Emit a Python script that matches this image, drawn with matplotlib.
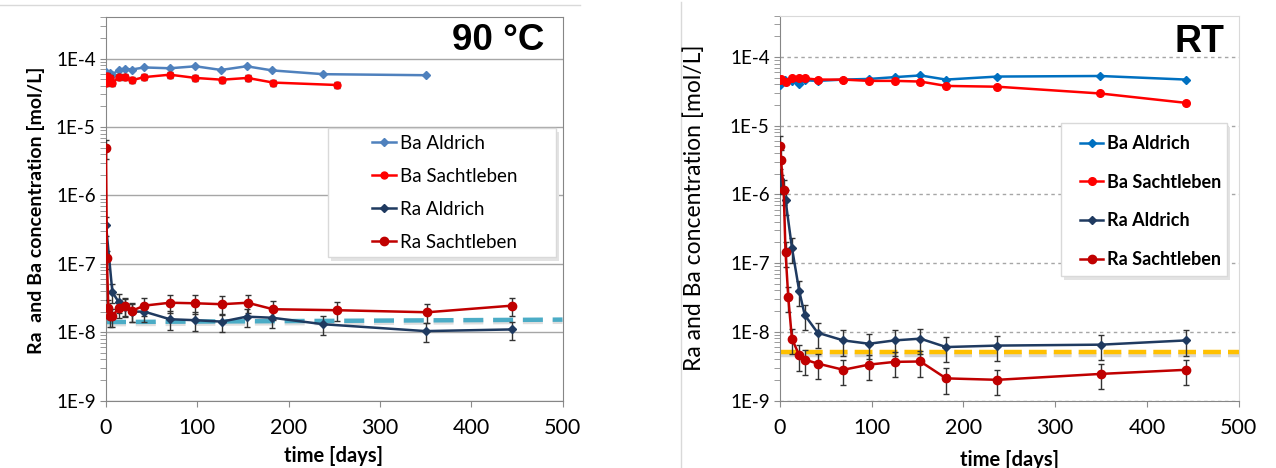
import numpy as np
import matplotlib
matplotlib.use("Agg")
import matplotlib.pyplot as plt
from matplotlib.ticker import FixedLocator, LogLocator, NullFormatter
from matplotlib.patches import Rectangle
from matplotlib.lines import Line2D

plt.rcParams['font.family'] = ['Lato', 'DejaVu Sans']

# ---------------- 90 °C data ----------------
hot_ba_ald_t = [0, 4, 7, 14, 21, 28, 42, 70, 98, 126, 154, 182, 238, 350]
hot_ba_ald = [6.4e-5, 6.1e-5, 5.8e-5, 6.9e-5, 7.1e-5, 6.9e-5, 7.4e-5, 7.2e-5,
              7.7e-5, 6.8e-5, 7.7e-5, 6.7e-5, 5.9e-5, 5.7e-5]
hot_ba_sac_t = [0, 1.5, 4, 7, 14, 21, 28, 42, 70, 98, 127, 155, 183, 253]
hot_ba_sac = [4.4e-5, 5.6e-5, 5.2e-5, 4.4e-5, 5.35e-5, 5.35e-5, 4.8e-5, 5.35e-5,
              5.8e-5, 5.2e-5, 4.9e-5, 5.2e-5, 4.45e-5, 4.1e-5]
hot_ra_ald_t = [0, 7, 14, 21, 28, 42, 70, 98, 127, 154, 182, 238, 350, 445]
hot_ra_ald = [3.7e-7, 3.85e-8, 2.75e-8, 2.37e-8, 2.0e-8, 2.0e-8, 1.55e-8, 1.5e-8,
              1.43e-8, 1.69e-8, 1.63e-8, 1.31e-8, 1.04e-8, 1.1e-8]
hot_ra_sac_t = [0, 1, 2.5, 4.5, 7, 14, 21, 28, 42, 70, 98, 127, 155, 183, 253, 352, 445]
hot_ra_sac = [4.9e-6, 1.2e-7, 2.3e-8, 1.7e-8, 1.7e-8, 2.3e-8, 2.45e-8, 2.05e-8, 2.45e-8,
              2.7e-8, 2.65e-8, 2.57e-8, 2.7e-8, 2.17e-8, 2.1e-8, 1.96e-8, 2.45e-8]
hot_limit_t = [0, 500]
hot_limit = [1.41e-8, 1.53e-8]
hot_ra_err = 0.3      # relative error bars
hot_ba_err = 0.1

# ---------------- RT data ----------------
rt_ba_ald_t = [0, 5, 13, 21, 27, 41, 69, 97, 125, 153, 181, 237, 349, 443]
rt_ba_ald = [3.9e-5, 4.7e-5, 4.5e-5, 4.0e-5, 4.6e-5, 4.5e-5, 4.7e-5, 4.8e-5,
             5.1e-5, 5.4e-5, 4.7e-5, 5.2e-5, 5.3e-5, 4.7e-5]
rt_ba_sac_t = [0, 1, 6, 13, 21, 27, 41, 69, 97, 125, 153, 181, 237, 349, 443]
rt_ba_sac = [4.6e-5, 4.8e-5, 4.4e-5, 5.0e-5, 4.9e-5, 4.9e-5, 4.7e-5, 4.7e-5,
             4.5e-5, 4.5e-5, 4.4e-5, 3.8e-5, 3.7e-5, 2.95e-5, 2.15e-5]
rt_ra_ald_t = [0, 6, 13, 21, 27, 41, 69, 97, 125, 153, 181, 237, 350, 443]
rt_ra_ald = [1.67e-6, 8.3e-7, 1.68e-7, 3.9e-8, 1.75e-8, 9.7e-9, 7.5e-9, 6.7e-9,
             7.5e-9, 7.95e-9, 6.0e-9, 6.3e-9, 6.5e-9, 7.5e-9]
rt_ra_sac_t = [0, 1, 4, 6, 9, 13, 21, 27, 41, 69, 97, 125, 153, 181, 237, 350, 443]
rt_ra_sac = [5.0e-6, 3.2e-6, 1.16e-6, 1.47e-7, 3.2e-8, 7.9e-9, 4.55e-9, 3.94e-9, 3.45e-9,
             2.8e-9, 3.33e-9, 3.65e-9, 3.7e-9, 2.1e-9, 2.0e-9, 2.44e-9, 2.8e-9]
rt_limit_t = [0, 500]
rt_limit = [5.1e-9, 5.1e-9]
rt_ra_err = 0.4

labels = ["Ba Aldrich", "Ba Sachtleben", "Ra Aldrich", "Ra Sachtleben"]
decades = [1e-9, 1e-8, 1e-7, 1e-6, 1e-5, 1e-4]
decade_labels = ["1E-9", "1E-8", "1E-7", "1E-6", "1E-5", "1E-4"]
xticks = [0, 100, 200, 300, 400, 500]

W, H = 1276, 468
fig = plt.figure(figsize=(W / 100, H / 100), dpi=100)


def px(x0, y0, x1, y1):
    # pixel box -> figure fraction rect
    return [x0 / W, 1 - y1 / H, (x1 - x0) / W, (y1 - y0) / H]


def setup(ax, gridstyle, spine_light):
    ax.set_yscale('log')
    ax.set_xlim(0, 500)
    ax.set_ylim(1e-9, 4e-4)
    ax.yaxis.set_major_locator(FixedLocator(decades))
    ax.set_yticklabels(decade_labels)
    ax.yaxis.set_minor_locator(LogLocator(base=10, subs=np.arange(2, 10)))
    ax.yaxis.set_minor_formatter(NullFormatter())
    ax.set_xticks(xticks)
    ax.tick_params(axis='y', which='both', direction='out', length=4.5,
                   color='#8C8C8C', labelsize=13.5, pad=3)
    ax.tick_params(axis='x', which='major', direction='out', length=4.5,
                   color='#8C8C8C', labelsize=15.5, pad=8)
    ax.grid(True, axis='y', which='major', color='#A6A6A6', lw=1, ls=gridstyle, zorder=0)
    for s in ['left', 'bottom']:
        ax.spines[s].set_color('#868686')
    for s in ['top', 'right']:
        ax.spines[s].set_color(spine_light)


def legend_box(ax, box, handles, handles_xy, spacing, bold, fs):
    x0, y0, x1, y1 = box
    sh = Rectangle((x0 / W + 3 / W, 1 - (y1 + 4) / H), (x1 - x0) / W, (y1 - y0) / H,
                   transform=fig.transFigure, facecolor='#E3E3E3', edgecolor='none',
                   zorder=6, clip_on=False)
    ax.add_patch(sh)
    r = Rectangle((x0 / W, 1 - y1 / H), (x1 - x0) / W, (y1 - y0) / H,
                  transform=fig.transFigure, facecolor='white', edgecolor='#D9D9D9',
                  lw=1, zorder=7, clip_on=False)
    ax.add_patch(r)
    leg = ax.legend(handles=handles, labels=labels, loc='upper left',
                    bbox_to_anchor=(handles_xy[0] / W, 1 - handles_xy[1] / H),
                    bbox_transform=fig.transFigure, frameon=False,
                    labelspacing=spacing, handlelength=1.3, handletextpad=0.2,
                    borderpad=0, borderaxespad=0, prop={'size': fs, 'weight': bold})
    leg.set_zorder(8)


def handle(color, marker, ms):
    return Line2D([], [], color=color, lw=1.8, marker=marker, ms=ms)


# ================= left panel: 90 °C =================
ax1 = fig.add_axes(px(106, 17.3, 562.5, 400.7))
setup(ax1, '-', '#868686')

ax1.plot(hot_limit_t, np.array(hot_limit) * 0.93, color='#BFBFBF', lw=3.2, alpha=0.5,
         dashes=(4.5, 2.2), zorder=2)
ax1.plot(hot_limit_t, hot_limit, color='#4BACC6', lw=3.2, dashes=(4.5, 2.2), zorder=2.5)

ax1.plot(hot_ba_ald_t, hot_ba_ald, color='#4F81BD', lw=1.8, marker='D', ms=4, zorder=3)
ax1.errorbar(hot_ba_sac_t, hot_ba_sac, yerr=np.array(hot_ba_sac) * hot_ba_err,
             color='#FF0000', lw=1.8, marker='o', ms=5, ecolor='#222222',
             elinewidth=1, capsize=2.5, capthick=1, zorder=3)
ax1.errorbar(hot_ra_ald_t, hot_ra_ald, yerr=np.array(hot_ra_ald) * hot_ra_err,
             color='#1F3A60', lw=1.8, marker='D', ms=4, ecolor='#333333',
             elinewidth=1, capsize=2.5, capthick=1, zorder=3)
ax1.errorbar(hot_ra_sac_t, hot_ra_sac, yerr=np.array(hot_ra_sac) * hot_ra_err,
             color='#C00000', lw=1.8, marker='o', ms=6, ecolor='#333333',
             elinewidth=1, capsize=2.5, capthick=1, zorder=3)

fig.text(544 / W, 1 - 50 / H, "90 °C", fontsize=26.5, fontweight='bold',
         family='Liberation Sans', ha='right', va='baseline')
h1 = [handle('#4F81BD', 'D', 4), handle('#FF0000', 'o', 5),
      handle('#1F3A60', 'D', 4), handle('#C00000', 'o', 6)]
legend_box(ax1, (328, 128, 556, 257), h1, (372, 135), 0.85, 'normal', 13.5)

fig.text(36 / W, 1 - 210 / H, "Ra  and Ba concentration [mol/L]", rotation=90,
         ha='center', va='center', fontsize=14, fontweight='bold')
fig.text(334 / W, 1 - 456 / H, "time [days]", ha='center', va='center',
         fontsize=14.5, fontweight='bold')

# ================= right panel: RT =================
ax2 = fig.add_axes(px(780, 15.7, 1238.7, 400.5))
setup(ax2, (0, (2.5, 2.5)), '#D9D9D9')

ax2.plot(rt_limit_t, np.array(rt_limit) * 0.9, color='#BFBFBF', lw=3.2, alpha=0.6,
         dashes=(4, 1.6), zorder=2)
ax2.plot(rt_limit_t, rt_limit, color='#FFC000', lw=3.2, dashes=(4, 1.6), zorder=2.5)

ax2.plot(rt_ba_ald_t, rt_ba_ald, color='#0070C0', lw=1.8, marker='D', ms=4, zorder=3)
ax2.plot(rt_ba_sac_t, rt_ba_sac, color='#FF0000', lw=1.8, marker='o', ms=5.5, zorder=3)
ax2.errorbar(rt_ra_ald_t, rt_ra_ald, yerr=np.array(rt_ra_ald) * rt_ra_err,
             color='#1F3A60', lw=1.8, marker='D', ms=4, ecolor='#333333',
             elinewidth=1, capsize=2.5, capthick=1, zorder=3)
ax2.errorbar(rt_ra_sac_t, rt_ra_sac, yerr=np.array(rt_ra_sac) * rt_ra_err,
             color='#C00000', lw=1.8, marker='o', ms=6, ecolor='#333333',
             elinewidth=1, capsize=2.5, capthick=1, zorder=3)

fig.text(1224 / W, 1 - 51.7 / H, "RT", fontsize=27, fontweight='bold',
         family='Liberation Sans', ha='right', va='baseline')
h2 = [handle('#0070C0', 'D', 4), handle('#FF0000', 'o', 5.5),
      handle('#1F3A60', 'D', 4), handle('#C00000', 'o', 6)]
legend_box(ax2, (1061, 123, 1227, 276), h2, (1080, 135), 1.2, 'bold', 13)

fig.text(694 / W, 1 - 208 / H, "Ra and Ba concentration [mol/L]", rotation=90,
         ha='center', va='center', fontsize=16.5)
fig.text(1009 / W, 1 - 460 / H, "time [days]", ha='center', va='center',
         fontsize=14.5, fontweight='bold')

# chart borders
fig.add_artist(Line2D([0, 580 / W], [1 - 5 / H, 1 - 5 / H], transform=fig.transFigure,
                      color='#D9D9D9', lw=1))
fig.add_artist(Line2D([681 / W, 681 / W], [0, 1 - 2 / H], transform=fig.transFigure,
                      color='#D9D9D9', lw=1))

fig.savefig("out.png", dpi=100)
